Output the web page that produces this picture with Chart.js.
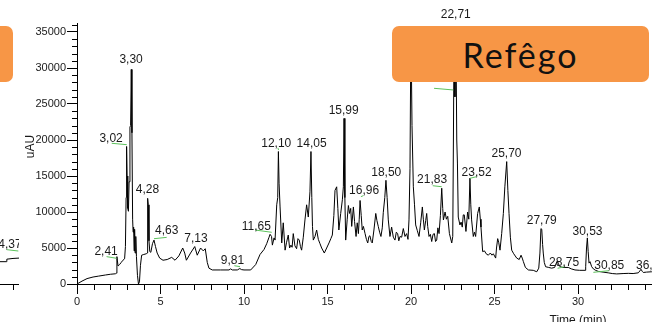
<!DOCTYPE html>
<html>
<head>
<meta charset="utf-8">
<script src="https://cdn.jsdelivr.net/npm/chart.js@4.4.1/dist/chart.umd.min.js"></script>
<style>
    html, body { margin: 0; padding: 0; background: #fff; overflow: hidden; }
    #wrap { position: relative; width: 652px; height: 322px; overflow: hidden; }
    #side-chart, #main-chart { position: absolute; left: 0; top: 0; }
    .tag { position: absolute; background: #f79646; border-radius: 7px; }
    #tag-main {
        left: 392px; top: 26px; width: 257px; height: 56px;
        font: 34px Lato, sans-serif; color: #111; letter-spacing: 2px;
        display: flex; align-items: center; justify-content: center;
    }
    #tag-side { left: -20px; top: 26px; width: 33px; height: 56px; }
</style>
</head>
<body>
<div id="wrap">
    <canvas id="side-chart" width="19" height="340"></canvas>
    <canvas id="main-chart" width="1100" height="340"></canvas>
    <div class="tag" id="tag-side"></div>
    <div class="tag" id="tag-main">Refêgo</div>
</div>
<script>
// chromatogram trace, time (min) / signal (uAU)
const times = [
    0.00, 0.30, 0.60, 0.96, 1.30, 1.70, 2.00, 2.30, 2.36, 2.39, 2.42, 2.46, 2.55, 2.65, 2.75, 2.85,
    2.90, 2.94, 2.97, 3.00, 3.04, 3.08, 3.12, 3.17, 3.21, 3.25, 3.29, 3.33, 3.36, 3.39, 3.42, 3.45,
    3.48, 3.52, 3.56, 3.62, 3.68, 3.74, 3.80, 3.87, 4.00, 4.15, 4.20, 4.23, 4.27, 4.31, 4.36, 4.42,
    4.52, 4.61, 4.70, 4.80, 4.95, 5.15, 5.40, 5.67, 5.87, 6.10, 6.33, 6.45, 6.55, 6.80, 7.05, 7.20,
    7.40, 7.56, 7.68, 7.80, 7.90, 8.10, 8.60, 9.10, 9.20, 9.30, 9.60, 9.75, 9.85, 10.00, 10.40, 10.70,
    10.96, 11.20, 11.36, 11.50, 11.56, 11.65, 11.70, 11.80, 11.86, 11.96, 12.02, 12.06, 12.10, 12.16, 12.26, 12.35,
    12.46, 12.55, 12.65, 12.73, 12.81, 12.88, 12.95, 13.05, 13.15, 13.23, 13.31, 13.38, 13.45, 13.55, 13.65, 13.75,
    13.85, 13.95, 14.01, 14.06, 14.10, 14.15, 14.25, 14.35, 14.45, 14.55, 14.65, 14.81, 14.95, 15.09, 15.20, 15.29,
    15.38, 15.45, 15.55, 15.62, 15.68, 15.79, 15.89, 15.95, 15.99, 16.04, 16.09, 16.18, 16.25, 16.32, 16.39, 16.45,
    16.55, 16.62, 16.71, 16.78, 16.85, 16.90, 16.95, 17.02, 17.08, 17.15, 17.25, 17.33, 17.41, 17.48, 17.54, 17.62,
    17.68, 17.78, 17.89, 17.96, 18.04, 18.12, 18.20, 18.28, 18.34, 18.43, 18.50, 18.57, 18.64, 18.74, 18.84, 18.94,
    19.04, 19.12, 19.20, 19.27, 19.34, 19.44, 19.54, 19.64, 19.74, 19.82, 19.88, 19.94, 19.98, 20.02, 20.06, 20.14,
    20.21, 20.28, 20.38, 20.48, 20.58, 20.68, 20.74, 20.80, 20.88, 20.94, 21.00, 21.08, 21.16, 21.24, 21.32, 21.40,
    21.47, 21.54, 21.61, 21.68, 21.76, 21.84, 21.90, 21.94, 22.04, 22.12, 22.20, 22.30, 22.44, 22.50, 22.54, 22.58,
    22.63, 22.69, 22.74, 22.78, 22.83, 22.93, 23.00, 23.07, 23.13, 23.19, 23.29, 23.39, 23.46, 23.53, 23.58, 23.63,
    23.73, 23.80, 23.87, 23.99, 24.09, 24.15, 24.19, 24.29, 24.40, 24.50, 24.63, 24.75, 24.85, 24.93, 25.07, 25.12,
    25.19, 25.25, 25.33, 25.43, 25.53, 25.62, 25.73, 25.80, 25.87, 25.95, 26.03, 26.15, 26.33, 26.48, 26.59, 26.66,
    26.73, 26.85, 27.03, 27.32, 27.53, 27.65, 27.72, 27.78, 27.83, 27.88, 27.92, 27.98, 28.06, 28.25, 28.42, 28.60,
    28.70, 28.76, 28.83, 28.92, 29.10, 29.42, 29.60, 29.82, 30.10, 30.42, 30.46, 30.51, 30.56, 30.61, 30.66, 30.72,
    30.82, 30.92, 31.05, 31.22, 31.50, 31.81, 32.05, 32.32, 32.70, 33.01, 33.30, 33.61, 33.70, 33.77, 33.85, 33.91,
    34.10, 34.41, 34.50, 34.70, 35.20, 35.60
];
const signal = [
    0, 400, 750, 970, 1100, 1250, 1350, 1420, 1500, 3800, 3200, 2500, 2700, 3000, 3300, 3500,
    5200, 12000, 19100, 15000, 10500, 10100, 14200, 21800, 22000, 29800, 21000, 9000, 7200, 7900, 4600, 7600,
    4300, 6600, 3800, 1200, 0, 300, 2600, 4000, 4100, 4200, 4300, 11900, 11000, 6000, 4500, 4400,
    5600, 6100, 5200, 4300, 3600, 3300, 3400, 3700, 3300, 3900, 5000, 4300, 3300, 4300, 5200, 4000,
    5000, 4600, 4900, 3000, 2200, 1950, 1950, 1950, 2100, 1950, 1950, 2150, 2000, 1950, 1950, 2700,
    4100, 4800, 5600, 6500, 6900, 6600, 5400, 6400, 6100, 11000, 12000, 18400, 14000, 10700, 5700, 8500,
    4700, 5800, 6800, 5000, 5400, 5100, 7000, 5300, 4900, 6300, 6100, 5200, 4700, 6500, 8900, 11000,
    9300, 12800, 18400, 12000, 8000, 6100, 6600, 7500, 6200, 5600, 5000, 4300, 5000, 5700, 6300, 6800,
    9500, 13000, 13500, 10500, 7500, 9800, 11700, 13500, 23000, 12000, 6100, 9000, 10900, 9800, 10500, 8000,
    10700, 8700, 6600, 8500, 7000, 9000, 11600, 9500, 7500, 8000, 7000, 6200, 5700, 6600, 6700, 5900,
    5700, 7500, 9800, 8800, 8000, 7200, 6600, 7800, 9900, 12000, 14400, 12000, 8900, 6600, 7900, 6500,
    6100, 7200, 7000, 6000, 6600, 6500, 7700, 6600, 7000, 6200, 8900, 16000, 30000, 31000, 22000, 13500,
    11000, 8200, 7400, 6600, 8500, 10700, 9000, 7500, 8800, 9800, 8000, 6600, 6900, 5900, 6900, 7000,
    5900, 6100, 7800, 7000, 9500, 13300, 10500, 8900, 10000, 9000, 9400, 7000, 5700, 6600, 20000, 35500,
    26000, 35000, 20000, 16800, 9300, 8200, 8600, 7900, 9600, 9600, 7300, 10000, 9000, 14700, 11000, 8900,
    6600, 7200, 6600, 9800, 10700, 9000, 7900, 4500, 4600, 4200, 4000, 4300, 4000, 4200, 3600, 5000,
    6300, 5800, 4700, 7000, 9800, 13500, 17000, 13000, 9800, 6500, 4700, 4200, 3600, 3400, 4000, 3600,
    3100, 2300, 1950, 1900, 1700, 2200, 4300, 7700, 7600, 5500, 4300, 3000, 2400, 2300, 2200, 2300,
    2900, 3200, 2800, 2400, 2300, 2300, 2100, 1950, 1900, 1900, 2400, 5000, 6400, 4500, 2900, 3100,
    2400, 2100, 1900, 1750, 1650, 1550, 1450, 1400, 1450, 1480, 1450, 1550, 1800, 2050, 1750, 1600,
    1650, 1700, 1800, 1650, 1600, 1600
];

// peak labels: text, anchor time, anchor signal
const peakNames = ['2,41', '3,02', '3,30', '4,28', '4,63', '7,13', '9,81', '11,65', '12,10', '14,05',
    '15,99', '16,96', '18,50', '21,83', '22,71', '23,52', '25,70', '27,79', '28,75', '30,53', '30,85', '36,56'];
const peakTimes = [1.74, 2.04, 3.24, 4.22, 5.37, 7.12, 9.31, 10.74, 11.93, 14.05,
    15.97, 17.19, 18.52, 21.26, 22.68, 23.93, 25.72, 27.83, 29.17, 30.57, 31.87, 34.37];
const peakHeights = [4030, 19720, 30700, 12600, 6900, 5880, 2730, 7500, 19070, 19070,
    23570, 12460, 15040, 13990, 36900, 15040, 17680, 8290, 2540, 6800, 2040, 2040];

// green peak markers: [t1, v1, t2, v2]
const peakMarks = [
    [1.77, 3800, 2.37, 3570],
    [2.08, 19540, 2.98, 19350],
    [4.61, 6290, 5.37, 6480],
    [9.42, 2540, 9.76, 2410],
    [10.66, 7500, 11.66, 7180],
    [12.03, 18900, 12.07, 18600],
    [17.00, 12130, 17.15, 12270],
    [21.30, 13650, 21.84, 13510],
    [21.38, 27180, 22.53, 26950],
    [23.53, 14680, 23.93, 14910],
    [28.78, 2180, 29.22, 2410],
    [30.92, 1620, 31.86, 1850]
];

const yTicks = [0, 5000, 10000, 15000, 20000, 25000, 30000, 35000];
const xTicks = [0, 5, 10, 15, 20, 25, 30, 35, 40, 45, 50, 55, 60];

// neighbouring panel, cut off at the left edge
const sideTimes = [33.22, 33.60, 33.63, 34.00, 34.36];
const sideSignal = [3100, 3100, 3450, 3550, 3600];
const sideNames = ['4,37'];
const sideLabelTimes = [33.82];
const sideLabelHeights = [5000];
const sideMarks = [[33.62, 4770, 34.32, 4580]];

const textColor = '#1a1a1a';
const markColor = '#5cc25c';
Chart.defaults.font.family = '"Liberation Sans", Arial, sans-serif';
Chart.defaults.color = textColor;

const minorTicks = {
    id: 'minorTicks',
    afterDraw(chart) {
        const { ctx } = chart;
        const x = chart.scales.x;
        const y = chart.scales.y;
        ctx.save();
        ctx.strokeStyle = '#000';
        ctx.lineWidth = 1;
        ctx.beginPath();
        if (y && y.options.display) {
            for (let v = 0; v <= y.max; v += 1000) {
                if (v % 5000 === 0) continue;
                const py = Math.round(y.getPixelForValue(v)) + 0.5;
                ctx.moveTo(y.right - 5, py);
                ctx.lineTo(y.right, py);
            }
        }
        for (let t = Math.ceil(x.min); t <= x.max; t++) {
            if (t % 5 === 0) continue;
            const px = Math.round(x.getPixelForValue(t)) + 0.5;
            ctx.moveTo(px, x.top);
            ctx.lineTo(px, x.top + 6);
        }
        ctx.stroke();
        ctx.restore();
    }
};

// y title drawn by hand so it can sit a little above the middle, like the reference
const yTitle = {
    id: 'yTitle',
    afterDraw(chart) {
        const { ctx, chartArea } = chart;
        ctx.save();
        ctx.translate(31, (chartArea.top + chartArea.bottom) / 2 - 7);
        ctx.rotate(-Math.PI / 2);
        ctx.fillStyle = textColor;
        ctx.font = '12px "Liberation Sans", Arial, sans-serif';
        ctx.textAlign = 'center';
        ctx.textBaseline = 'middle';
        ctx.fillText('uAU', 0, 0);
        ctx.restore();
    }
};

function drawPeakLabels(chart, names, lx, ly, marks) {
    const { ctx } = chart;
    const x = chart.scales.x;
    const y = chart.scales.y;
    ctx.save();
    ctx.strokeStyle = markColor;
    ctx.lineWidth = 1;
    marks.forEach(m => {
        ctx.beginPath();
        ctx.moveTo(x.getPixelForValue(m[0]), y.getPixelForValue(m[1]));
        ctx.lineTo(x.getPixelForValue(m[2]), y.getPixelForValue(m[3]));
        ctx.stroke();
    });
    ctx.fillStyle = textColor;
    ctx.font = '12px "Liberation Sans", Arial, sans-serif';
    ctx.textAlign = 'center';
    ctx.textBaseline = 'alphabetic';
    names.forEach((name, i) => {
        ctx.fillText(name, x.getPixelForValue(lx[i]), y.getPixelForValue(ly[i]));
    });
    ctx.restore();
}

const mainLabels = {
    id: 'mainLabels',
    afterDatasetsDraw(chart) {
        drawPeakLabels(chart, peakNames, peakTimes, peakHeights, peakMarks);
    }
};

const sideLabels = {
    id: 'sideLabels',
    afterDatasetsDraw(chart) {
        drawPeakLabels(chart, sideNames, sideLabelTimes, sideLabelHeights, sideMarks);
    }
};

const tickFont = { size: 11 };

new Chart(document.getElementById('main-chart'), {
    type: 'line',
    data: {
        datasets: [{
            data: times.map((t, i) => ({ x: t, y: signal[i] })),
            borderColor: '#000',
            borderWidth: 1,
            pointRadius: 0,
            tension: 0,
        }]
    },
    options: {
        responsive: false,
        animation: false,
        events: [],
        layout: { padding: { top: 23, right: 21, left: 0, bottom: 0 } },
        plugins: { legend: { display: false }, tooltip: { enabled: false } },
        scales: {
            x: {
                type: 'linear',
                min: 0,
                max: 60,
                afterBuildTicks: scale => { scale.ticks = xTicks.map(v => ({ value: v })); },
                afterFit: scale => { scale.height = 56; },
                border: { color: '#000', width: 1 },
                grid: { drawOnChartArea: false, tickLength: 10, tickColor: '#000' },
                ticks: { font: tickFont, padding: 1, maxRotation: 0, autoSkip: false },
                title: { display: true, text: 'Time (min)', font: { size: 12 }, padding: { top: 0, bottom: 12 } },
            },
            y: {
                min: 0,
                max: 36250,
                afterBuildTicks: scale => { scale.ticks = yTicks.map(v => ({ value: v })); },
                afterFit: scale => { scale.width = 77; },
                border: { color: '#000', width: 1 },
                grid: { drawOnChartArea: false, tickLength: 10, tickColor: '#000' },
                ticks: { font: tickFont, padding: 1, autoSkip: false, callback: v => String(v) },
            }
        }
    },
    plugins: [minorTicks, yTitle, mainLabels]
});

new Chart(document.getElementById('side-chart'), {
    type: 'line',
    data: {
        datasets: [{
            data: sideTimes.map((t, i) => ({ x: t, y: sideSignal[i] })),
            borderColor: '#000',
            borderWidth: 1,
            pointRadius: 0,
            tension: 0,
        }]
    },
    options: {
        responsive: false,
        animation: false,
        events: [],
        layout: { padding: { top: 23, right: 0, left: 0, bottom: 0 } },
        plugins: { legend: { display: false }, tooltip: { enabled: false } },
        scales: {
            x: {
                type: 'linear',
                min: 33.22,
                max: 34.36,
                afterBuildTicks: scale => { scale.ticks = []; },
                afterFit: scale => { scale.height = 56; },
                border: { color: '#000', width: 1 },
                grid: { drawOnChartArea: false, drawTicks: false },
                ticks: { display: false },
            },
            y: { display: false, min: 0, max: 36250 }
        }
    },
    plugins: [minorTicks, sideLabels]
});
</script>
</body>
</html>
